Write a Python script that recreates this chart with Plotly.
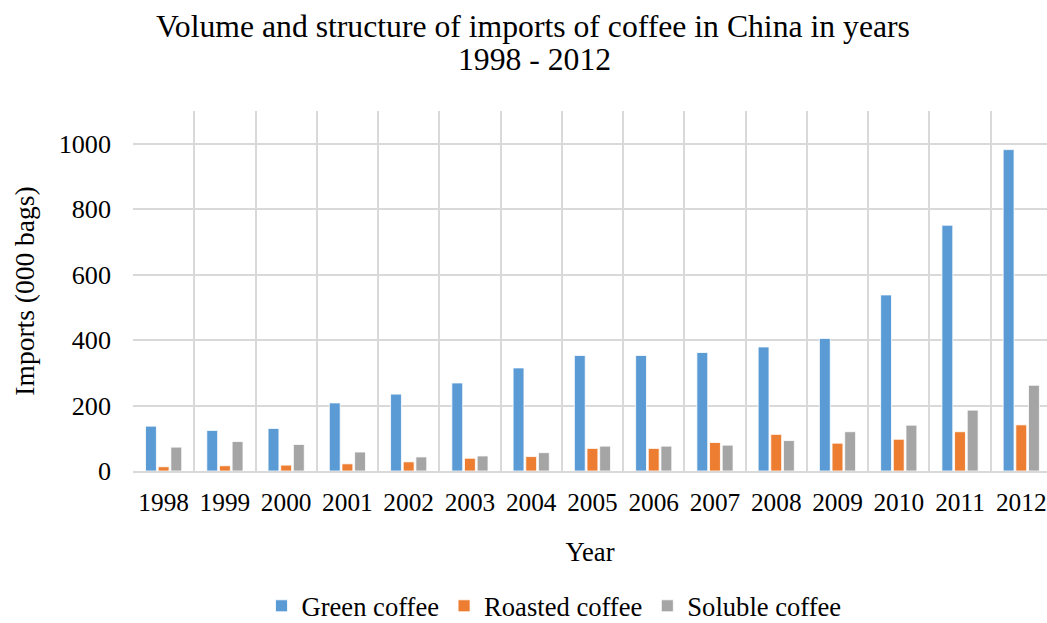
import plotly.graph_objects as go

years = ["1998", "1999", "2000", "2001", "2002", "2003", "2004", "2005",
         "2006", "2007", "2008", "2009", "2010", "2011", "2012"]
green = [137, 124, 130, 208, 235, 269, 315, 353, 353, 362, 379, 405, 538, 751, 982]
roasted = [13, 16, 18, 22, 28, 39, 44, 69, 69, 87, 112, 85, 97, 120, 141]
soluble = [73, 90, 81, 58, 43, 46, 56, 76, 76, 79, 93, 120, 140, 186, 262]

series = [
    ("Green coffee", green, "#5B9BD5"),
    ("Roasted coffee", roasted, "#ED7D31"),
    ("Soluble coffee", soluble, "#A5A5A5"),
]

FONT = "Liberation Serif, Times New Roman, serif"
GRID = "#D9D9D9"

fig = go.Figure()
for name, vals, color in series:
    fig.add_trace(go.Bar(
        x=years, y=vals, name=name,
        marker=dict(color=color, line=dict(color="white", width=0.8)),
    ))

fig.update_layout(
    width=1047, height=623,
    margin=dict(l=133, r=0, t=111, b=152, autoexpand=False),
    paper_bgcolor="white", plot_bgcolor="white",
    font=dict(family=FONT, size=26.7, color="black"),
    barmode="group", bargap=0.38, bargroupgap=0.14,
    title=dict(
        text="Volume and structure of imports of coffee in China in years",
        x=533 / 1047, xanchor="center", y=1 - 26 / 623, yanchor="middle",
        font=dict(family=FONT, size=31.7, color="black"),
    ),
    xaxis=dict(
        type="category", range=[-0.5, 14.42],
        tickson="boundaries", ticks="", showgrid=True,
        gridcolor=GRID, gridwidth=1.5,
        showline=True, linecolor=GRID, linewidth=2,
        tickfont=dict(size=25.3), ticklabelstandoff=8,
        title=dict(text="Year", standoff=27, font=dict(size=26.7)),
    ),
    yaxis=dict(
        range=[0, 1100], dtick=200, tick0=0,
        showgrid=True, gridcolor=GRID, gridwidth=1.5,
        zeroline=False, ticks="", ticklabelstandoff=21,
        tickfont=dict(size=26.2),
        title=dict(text="Imports (000 bags)", standoff=16, font=dict(size=27.5)),
    ),
    legend=dict(
        orientation="h", x=(554 - 133) / 914, xref="paper",
        xanchor="center", y=(471 - 606) / 360, yanchor="middle",
        font=dict(size=26.6), traceorder="normal",
    ),
)

# second line of the title
fig.add_annotation(
    text="1998 - 2012", xref="paper", yref="paper",
    x=(534 - 133) / 914, y=1 + (111 - 59) / 360,
    xanchor="center", yanchor="middle", showarrow=False,
    font=dict(family=FONT, size=31.7, color="black"),
)

fig.write_html("out.html")
